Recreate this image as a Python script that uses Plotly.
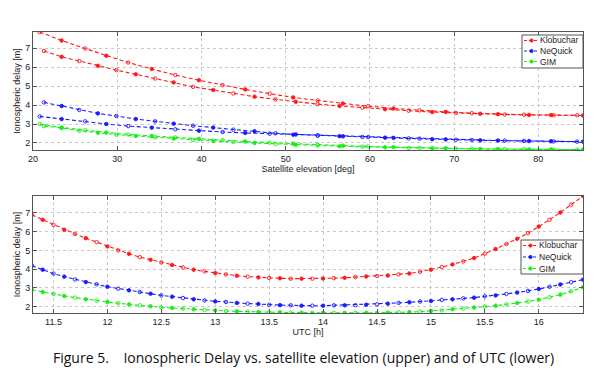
import plotly.graph_objects as go

# ---------------- Upper panel: vs satellite elevation ----------------
elev_a = [20.8, 23.4, 26.2, 28.7, 31.3, 34.1, 36.9, 39.7, 42.5, 45.2, 48.1, 50.9,
          53.8, 56.8, 59.8, 62.8, 65.9, 69.0, 72.1, 75.2, 78.3, 81.5, 84.6]
klob_a = [7.85, 7.40, 6.98, 6.60, 6.24, 5.90, 5.58, 5.31, 5.05, 4.82, 4.60, 4.40,
          4.24, 4.08, 3.94, 3.82, 3.72, 3.64, 3.57, 3.52, 3.49, 3.47, 3.46]
neq_a = [3.40, 3.26, 3.14, 3.00, 2.89, 2.81, 2.72, 2.65, 2.58, 2.53, 2.49, 2.44,
         2.39, 2.35, 2.31, 2.27, 2.23, 2.19, 2.16, 2.13, 2.11, 2.09, 2.07]
gim_a = [3.00, 2.82, 2.67, 2.55, 2.45, 2.37, 2.29, 2.22, 2.15, 2.08, 2.02, 1.96,
         1.91, 1.86, 1.82, 1.78, 1.75, 1.72, 1.70, 1.68, 1.67, 1.66, 1.65]

elev_b = [21.3, 23.4, 25.5, 27.7, 29.9, 32.2, 34.5, 36.7, 39.0, 41.4, 43.8, 46.3, 48.8,
          51.2, 53.8, 56.4, 59.1, 61.8, 64.6, 67.4, 70.2, 73.1, 76.0, 78.9, 81.8, 85.3]
klob_b = [6.85, 6.54, 6.32, 6.07, 5.84, 5.62, 5.40, 5.19, 4.96, 4.79, 4.61, 4.44, 4.30,
          4.17, 4.05, 3.95, 3.86, 3.78, 3.70, 3.63, 3.58, 3.54, 3.50, 3.48, 3.46, 3.45]
neq_b = [4.14, 3.95, 3.74, 3.56, 3.42, 3.26, 3.14, 3.02, 2.91, 2.81, 2.70, 2.62, 2.51,
         2.45, 2.40, 2.36, 2.32, 2.28, 2.24, 2.20, 2.17, 2.14, 2.12, 2.10, 2.08, 2.07]
gim_b = [2.89, 2.79, 2.65, 2.54, 2.44, 2.37, 2.30, 2.23, 2.16, 2.11, 2.05, 2.00, 1.95,
         1.91, 1.87, 1.83, 1.80, 1.77, 1.74, 1.72, 1.70, 1.68, 1.67, 1.66, 1.65, 1.65]

# ---------------- Lower panel: vs UTC ----------------
utc = [11.3, 11.4, 11.5, 11.6, 11.7, 11.8, 11.9, 12.0, 12.1, 12.2, 12.3, 12.4, 12.5,
       12.6, 12.7, 12.8, 12.9, 13.0, 13.1, 13.2, 13.3, 13.4, 13.5, 13.6, 13.7, 13.8,
       13.9, 14.0, 14.1, 14.2, 14.3, 14.4, 14.5, 14.6, 14.7, 14.8, 14.9, 15.0, 15.1,
       15.2, 15.3, 15.4, 15.5, 15.6, 15.7, 15.8, 15.9, 16.0, 16.1, 16.2, 16.3, 16.41]
klob_utc = [6.89, 6.63, 6.36, 6.10, 5.88, 5.65, 5.44, 5.21, 5.00, 4.82, 4.64, 4.50, 4.36,
            4.22, 4.09, 3.97, 3.88, 3.79, 3.72, 3.65, 3.60, 3.56, 3.53, 3.51, 3.49, 3.49,
            3.49, 3.50, 3.52, 3.54, 3.58, 3.61, 3.63, 3.66, 3.72, 3.77, 3.86, 3.97, 4.11,
            4.25, 4.41, 4.59, 4.82, 5.07, 5.34, 5.62, 5.92, 6.27, 6.63, 7.02, 7.44, 7.90]
neq_utc = [4.18, 3.97, 3.76, 3.60, 3.45, 3.31, 3.19, 3.06, 2.96, 2.87, 2.78, 2.69, 2.60,
           2.53, 2.46, 2.39, 2.33, 2.28, 2.25, 2.20, 2.16, 2.14, 2.10, 2.08, 2.07, 2.05,
           2.05, 2.05, 2.07, 2.07, 2.08, 2.10, 2.12, 2.16, 2.20, 2.23, 2.27, 2.30, 2.36,
           2.39, 2.44, 2.48, 2.55, 2.60, 2.68, 2.75, 2.84, 2.94, 3.06, 3.18, 3.30, 3.44]
gim_utc = [2.90, 2.78, 2.68, 2.57, 2.48, 2.39, 2.32, 2.25, 2.18, 2.12, 2.07, 2.02, 1.96,
           1.93, 1.89, 1.86, 1.82, 1.80, 1.77, 1.75, 1.73, 1.71, 1.70, 1.70, 1.68, 1.68,
           1.67, 1.67, 1.67, 1.67, 1.67, 1.67, 1.67, 1.68, 1.70, 1.71, 1.73, 1.77, 1.80,
           1.86, 1.89, 1.95, 2.00, 2.05, 2.12, 2.19, 2.27, 2.37, 2.50, 2.64, 2.82, 3.03]

names = ["Klobuchar", "NeQuick", "GIM"]
colors = ["#ff1a1a", "#1a1aff", "#1aee1a"]

xticks_up = [20, 30, 40, 50, 60, 70, 80]
xticks_low = [11.5, 12, 12.5, 13, 13.5, 14, 14.5, 15, 15.5, 16]
yticks = [2, 3, 4, 5, 6, 7]

DASH = "4px,2.5px"


def syms(n):
    return ["circle" if i % 2 else "circle-open" for i in range(n)]


fig = go.Figure()

upper_sets = [(elev_a, klob_a, elev_b, klob_b), (elev_a, neq_a, elev_b, neq_b),
              (elev_a, gim_a, elev_b, gim_b)]
for k, (xa, ya, xb, yb) in enumerate(upper_sets):
    for j, (xx, yy) in enumerate([(xa, ya), (xb, yb)]):
        fig.add_trace(go.Scatter(
            x=xx, y=yy, mode="lines+markers", name=names[k], showlegend=False,
            line=dict(color=colors[k], width=1.1, dash=DASH),
            marker=dict(color=colors[k], size=3.5, symbol=syms(len(xx)), line=dict(width=0.9, color=colors[k])),
            xaxis="x", yaxis="y"))

for k, yy in enumerate([klob_utc, neq_utc, gim_utc]):
    fig.add_trace(go.Scatter(
        x=utc, y=yy, mode="lines+markers", name=names[k], showlegend=False,
        line=dict(color=colors[k], width=1.1, dash=DASH),
        marker=dict(color=colors[k], size=3.5, symbol=syms(len(utc)), line=dict(width=0.9, color=colors[k])),
        xaxis="x2", yaxis="y2"))

axfont = dict(family="Liberation Sans, Arial, sans-serif", size=9, color="#222")
common = dict(showline=True, linecolor="#555", linewidth=1, mirror="ticks", ticks="inside",
              ticklen=4, tickcolor="#555", showgrid=True, gridcolor="#c8c8c8", griddash="dot",
              gridwidth=1, zeroline=False, tickfont=axfont, automargin=False)

# ---- custom compact legends (MATLAB style), positioned in paper coordinates ----
L, R, T, B = 33, 583, 32, 313
W, H = R - L, B - T


def px(xp):
    return (xp - L) / W


def py(yp):
    return (B - yp) / H


shapes = []
annotations = []


def add_legend(box, rows_y, x_line0, x_line1, x_text):
    x0, y0, x1, y1 = box
    shapes.append(dict(type="rect", xref="paper", yref="paper", x0=px(x0), x1=px(x1),
                       y0=py(y1), y1=py(y0), line=dict(color="#555", width=1), fillcolor="white",
                       layer="above"))
    for k, ry in enumerate(rows_y):
        shapes.append(dict(type="line", xref="paper", yref="paper", x0=px(x_line0), x1=px(x_line1),
                           y0=py(ry), y1=py(ry), line=dict(color=colors[k], width=1.1, dash="3px,2px"),
                           layer="above"))
        xm = (x_line0 + x_line1) / 2
        shapes.append(dict(type="circle", xref="paper", yref="paper", x0=px(xm - 1.6), x1=px(xm + 1.6),
                           y0=py(ry + 1.6), y1=py(ry - 1.6), line=dict(color=colors[k], width=1),
                           fillcolor=colors[k], layer="above"))
        annotations.append(dict(text=names[k], xref="paper", yref="paper", x=px(x_text), y=py(ry),
                                xanchor="left", yanchor="middle", showarrow=False, borderpad=0,
                                font=dict(family="Liberation Sans, Arial, sans-serif", size=8.5, color="#222")))


add_legend((522, 35, 583, 68), [40.5, 51, 61.5], 524, 539, 539)
add_legend((521, 240, 583, 274), [245.5, 257, 268.5], 523, 538, 538)

annotations.append(dict(
    text="Figure 5.&nbsp;&nbsp;&nbsp;&nbsp;Ionospheric Delay vs. satellite elevation (upper) and of UTC (lower)",
    xref="paper", yref="paper", x=px(303), y=py(357), xanchor="center", yanchor="middle",
    showarrow=False, font=dict(family="Open Sans, sans-serif", size=14, color="#111")))

fig.update_layout(
    width=600, height=372,
    margin=dict(l=L, r=600 - R, t=T, b=372 - B, autoexpand=False),
    paper_bgcolor="white", plot_bgcolor="white", showlegend=False,
    font=dict(family="Liberation Sans, Arial, sans-serif", size=9, color="#222"),
    xaxis=dict(domain=[0, 1], anchor="y", range=[20, 85.3], tickvals=xticks_up,
               title=dict(text="Satellite elevation [deg]", standoff=1, font=axfont), **common),
    yaxis=dict(domain=[py(150), 1], anchor="x", range=[1.63, 7.85], tickvals=yticks,
               title=dict(text="Ionospheric delay [m]", standoff=3, font=axfont), **common),
    xaxis2=dict(domain=[0, 1], anchor="y2", range=[11.31, 16.41], tickvals=xticks_low,
                title=dict(text="UTC [h]", standoff=1, font=axfont), **common),
    yaxis2=dict(domain=[0, py(196)], anchor="x2", range=[1.66, 7.9], tickvals=yticks,
                title=dict(text="Ionospheric delay [m]", standoff=3, font=axfont), **common),
    shapes=shapes,
    annotations=annotations,
)

fig.write_html("out.html", config={"displayModeBar": False},
               post_script="document.body.style.margin='0';document.body.style.overflow='hidden';")
